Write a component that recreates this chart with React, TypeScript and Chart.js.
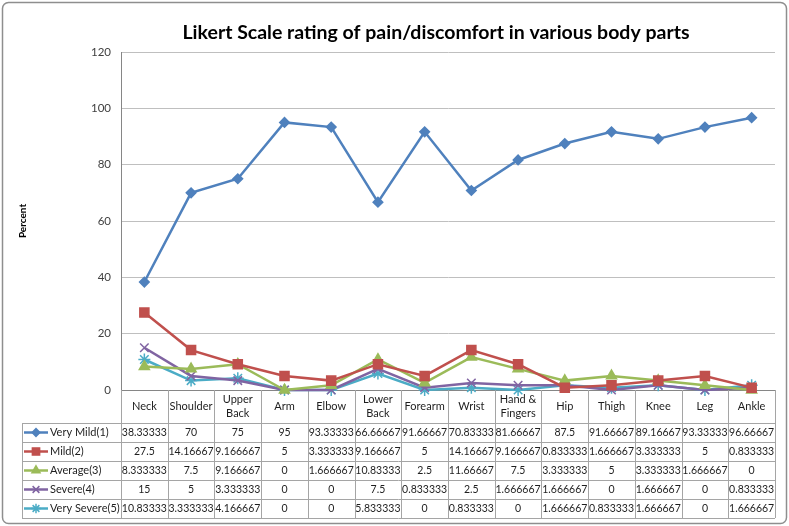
import React, { useEffect, useRef } from "react";
import { Chart, registerables, Plugin, PointStyle } from "chart.js";
import { drawPoint } from "chart.js/helpers";

Chart.register(...registerables);

// body parts, split where the data table wraps them
const categories: string[][] = [
  ["Neck"],
  ["Shoulder"],
  ["Upper", "Back"],
  ["Arm"],
  ["Elbow"],
  ["Lower", "Back"],
  ["Forearm"],
  ["Wrist"],
  ["Hand &", "Fingers"],
  ["Hip"],
  ["Thigh"],
  ["Knee"],
  ["Leg"],
  ["Ankle"],
];

const veryMild = [38.33333, 70, 75, 95, 93.33333, 66.66667, 91.66667, 70.83333, 81.66667, 87.5, 91.66667, 89.16667, 93.33333, 96.66667];
const mild = [27.5, 14.16667, 9.166667, 5, 3.333333, 9.166667, 5, 14.16667, 9.166667, 0.833333, 1.666667, 3.333333, 5, 0.833333];
const average = [8.333333, 7.5, 9.166667, 0, 1.666667, 10.83333, 2.5, 11.66667, 7.5, 3.333333, 5, 3.333333, 1.666667, 0];
const severe = [15, 5, 3.333333, 0, 0, 7.5, 0.833333, 2.5, 1.666667, 1.666667, 0, 1.666667, 0, 0.833333];
const verySevere = [10.83333, 3.333333, 4.166667, 0, 0, 5.833333, 0, 0.833333, 0, 1.666667, 0.833333, 1.666667, 0, 1.666667];

const seriesNames = ["Very Mild(1)", "Mild(2)", "Average(3)", "Severe(4)", "Very Severe(5)"];
const seriesValues = [veryMild, mild, average, severe, verySevere];
const seriesColors = ["#4F81BD", "#C0504D", "#9BBB59", "#8064A2", "#4BACC6"];
const seriesMarkers: PointStyle[] = ["rectRot", "rect", "triangle", "crossRot", "star"];
const markerSizes = [4.8, 6.4, 5.8, 6, 6];

const yMax = 120;
const yStep = 20;

const TITLE = "Likert Scale rating of pain/discomfort in various body parts";
const FONT = "Lato";

const HEAD_H = 33;
const ROW_H = 19;
const LEGEND_W = 99;

const frameAndTable: Plugin<"line"> = {
  id: "frameAndTable",
  beforeDraw(chart) {
    const { ctx, width, height } = chart;
    ctx.save();
    ctx.fillStyle = "#fff";
    ctx.fillRect(0, 0, width, height);
    ctx.strokeStyle = "#8e8e8e";
    ctx.lineWidth = 1.5;
    ctx.beginPath();
    ctx.roundRect(2.5, 2.5, width - 5, height - 5, 6);
    ctx.stroke();
    ctx.restore();
  },
  beforeDatasetsDraw(chart) {
    const { ctx, chartArea } = chart;
    const x = chart.scales.x;
    const n = categories.length;
    const colW = chartArea.width / n;
    const top = chartArea.bottom;
    const tLeft = chartArea.left - LEGEND_W;
    const bottom = top + HEAD_H + ROW_H * seriesNames.length;

    ctx.save();
    ctx.strokeStyle = "#a5a5a5";
    ctx.lineWidth = 1;
    ctx.beginPath();
    for (let i = 0; i <= n; i++) {
      const px = Math.round(chartArea.left + i * colW) + 0.5;
      ctx.moveTo(px, top);
      ctx.lineTo(px, bottom);
    }
    ctx.moveTo(tLeft + 0.5, top + HEAD_H);
    ctx.lineTo(tLeft + 0.5, bottom);
    for (let r = 0; r <= seriesNames.length; r++) {
      const py = Math.round(top + HEAD_H + r * ROW_H) + 0.5;
      ctx.moveTo(tLeft, py);
      ctx.lineTo(chartArea.right, py);
    }
    ctx.stroke();

    ctx.fillStyle = "#1e1e1e";
    ctx.font = `11px ${FONT}`;
    ctx.textAlign = "center";
    ctx.textBaseline = "middle";
    categories.forEach((lines, i) => {
      const cx = x.getPixelForValue(i);
      const cy = top + HEAD_H / 2;
      lines.forEach((l, k) => ctx.fillText(l, cx, cy + (k - (lines.length - 1) / 2) * 14));
    });

    ctx.font = `10.5px ${FONT}`;
    seriesValues.forEach((vals, r) => {
      const cy = top + HEAD_H + r * ROW_H + ROW_H / 2;
      ctx.textAlign = "center";
      ctx.fillStyle = "#1e1e1e";
      vals.forEach((v, i) => ctx.fillText(String(v), x.getPixelForValue(i), cy));

      // legend key
      ctx.strokeStyle = seriesColors[r];
      ctx.fillStyle = seriesColors[r];
      ctx.lineWidth = 2.5;
      ctx.beginPath();
      ctx.moveTo(tLeft + 2, cy);
      ctx.lineTo(tLeft + 26, cy);
      ctx.stroke();
      ctx.lineWidth = 1.5;
      drawPoint(ctx, { pointStyle: seriesMarkers[r], radius: markerSizes[r] * 0.8, rotation: 0, borderWidth: 1.5 }, tLeft + 14, cy);
      ctx.fillStyle = "#1e1e1e";
      ctx.textAlign = "left";
      ctx.font = `11px ${FONT}`;
      ctx.fillText(seriesNames[r], tLeft + 28, cy);
      ctx.font = `10.5px ${FONT}`;
    });
    ctx.restore();
  },
  afterDraw(chart) {
    const { ctx, chartArea } = chart;
    ctx.save();
    ctx.fillStyle = "#000";
    ctx.font = `bold 19.5px ${FONT}`;
    ctx.textAlign = "center";
    ctx.textBaseline = "middle";
    ctx.fillText(TITLE, (chartArea.left + chartArea.right) / 2 - 12, 33);
    ctx.restore();
  },
};

const LikertChart: React.FC = () => {
  const canvasRef = useRef<HTMLCanvasElement | null>(null);

  useEffect(() => {
    document.body.style.margin = "0";
    const ctx = canvasRef.current?.getContext("2d");
    if (!ctx) return;
    const chart = new Chart(ctx, {
      type: "line",
      data: {
        labels: categories.map((c) => c.join(" ")),
        datasets: seriesNames.map((name, i) => ({
          label: name,
          data: seriesValues[i],
          borderColor: seriesColors[i],
          backgroundColor: seriesColors[i],
          pointBackgroundColor: seriesColors[i],
          pointBorderColor: seriesColors[i],
          pointStyle: seriesMarkers[i],
          pointRadius: markerSizes[i],
          pointBorderWidth: 1.5,
          borderWidth: 2.5,
          tension: 0,
          clip: false as any,
        })),
      },
      options: {
        responsive: false,
        animation: false,
        layout: { padding: { top: 52, left: 17, right: 14, bottom: 0 } },
        plugins: {
          legend: { display: false },
          title: { display: false },
          tooltip: { enabled: false },
        },
        scales: {
          x: {
            type: "category",
            offset: true,
            ticks: { display: false },
            grid: { display: false, drawTicks: false },
            border: { display: true, color: "#868686" },
            afterFit: (s) => {
              s.height = 136;
            },
          },
          y: {
            min: 0,
            max: yMax,
            ticks: { stepSize: yStep, font: { family: FONT, size: 11.5 }, color: "#404040", padding: 10 },
            grid: { color: "#bfbfbf", drawTicks: false },
            border: { display: true, color: "#868686" },
            title: {
              display: true,
              text: "Percent",
              color: "#000",
              font: { family: FONT, size: 10, weight: "bold" },
              padding: 0,
            },
            afterFit: (s) => {
              s.width = 104;
            },
          },
        },
      },
      plugins: [frameAndTable],
    });
    return () => {
      chart.destroy();
    };
  }, []);

  return (
    <div style={{ width: "789px", height: "526px" }}>
      <canvas ref={canvasRef} width={789} height={526} />
    </div>
  );
};

export default function App() {
  return <LikertChart />;
}
